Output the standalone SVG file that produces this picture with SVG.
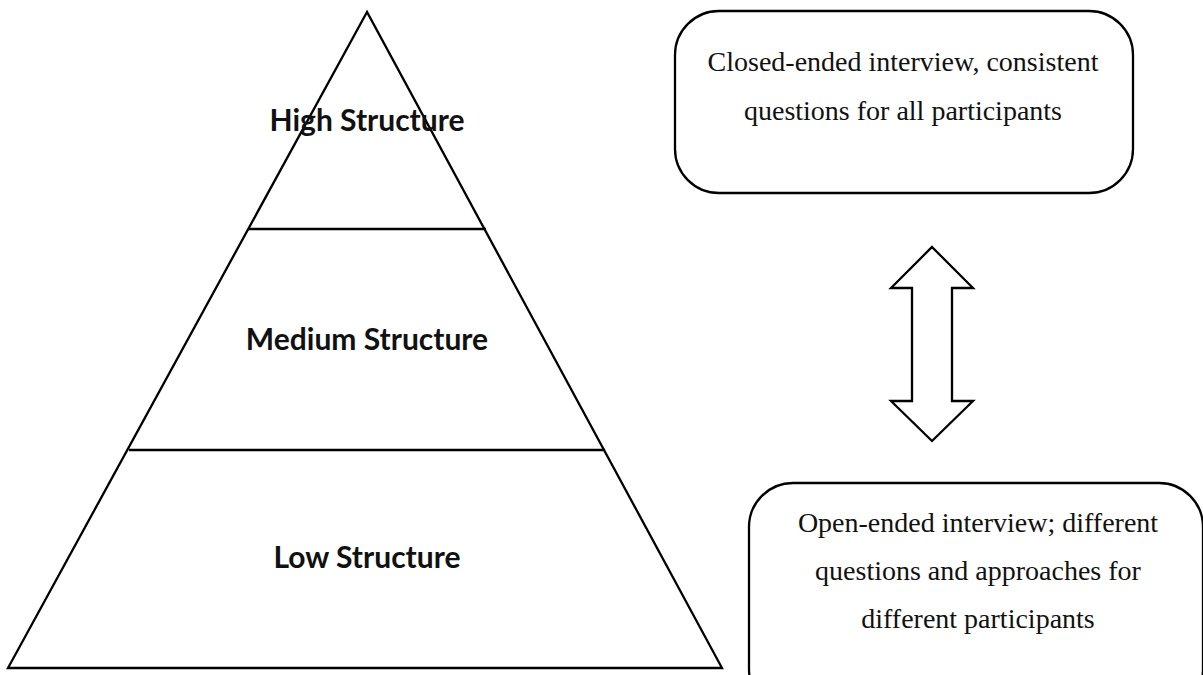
<svg xmlns="http://www.w3.org/2000/svg" width="1203" height="675" viewBox="0 0 1203 675">
  <style>
    .shape { fill: #ffffff; stroke: #000000; stroke-width: 2.3; stroke-linejoin: miter; }
    .divider { stroke: #000000; stroke-width: 2.6; }
    .level { font-family: "Lato", "Open Sans", "Liberation Sans", sans-serif; font-weight: bold; font-size: 30px; fill: #111111; text-anchor: middle; }
    .note { font-family: "Liberation Serif", "Times New Roman", serif; font-size: 28px; fill: #111111; text-anchor: middle; }
  </style>
  <rect width="1203" height="675" fill="#ffffff"/>

  <!-- Pyramid of interview structure levels -->
  <g id="pyramid">
    <polygon class="shape" points="367,12 8,668 722,668"/>
    <line class="divider" x1="248" y1="229" x2="486" y2="229"/>
    <line class="divider" x1="129" y1="450" x2="605" y2="450"/>
  </g>
  <g id="high-structure">
    <text class="level" x="367" y="131">High Structure</text>
  </g>
  <g id="medium-structure">
    <text class="level" x="367" y="350">Medium Structure</text>
  </g>
  <g id="low-structure">
    <text class="level" x="367" y="568">Low Structure</text>
  </g>

  <!-- Descriptions of the two ends of the scale -->
  <g id="closed-ended">
    <rect class="shape" x="675" y="11" width="458" height="182" rx="44" ry="44"/>
    <text class="note" x="903" y="71">Closed-ended interview, consistent</text>
    <text class="note" x="903" y="120">questions for all participants</text>
  </g>
  <g id="open-ended">
    <rect class="shape" x="749" y="483" width="454" height="230" rx="44" ry="44"/>
    <text class="note" x="978" y="532">Open-ended interview; different</text>
    <text class="note" x="978" y="580">questions and approaches for</text>
    <text class="note" x="978" y="628">different participants</text>
  </g>

  <!-- Two-way arrow between the ends -->
  <g id="connectors">
    <polygon class="shape" points="932,247 973,288 952,288 952,401 973,401 932,441 891,401 912,401 912,288 891,288"/>
  </g>
</svg>
